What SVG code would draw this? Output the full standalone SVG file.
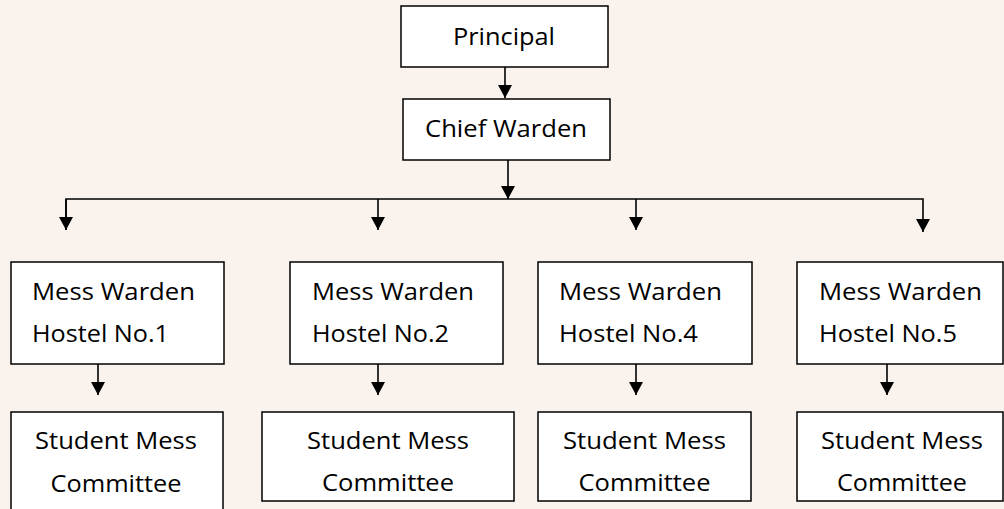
<svg xmlns="http://www.w3.org/2000/svg" width="1004" height="509" viewBox="0 0 1004 509">
<style>
.bg{fill:#FAF2EC}
.box{fill:#FFFFFF;stroke:#000000;stroke-width:1.5}
.t{font-family:"Open Sans","Noto Sans",sans-serif;font-size:24px;fill:#000000}
.c{text-anchor:middle}
.ln{fill:none;stroke:#000000;stroke-width:1.6}
</style>
<defs>
<marker id="ah" viewBox="0 0 13 14" refX="13" refY="7" markerWidth="13" markerHeight="14" markerUnits="userSpaceOnUse" orient="auto">
<path d="M0,0 L13,7 L0,14 z" fill="#000000"/>
</marker>
</defs>
<rect class="bg" x="0" y="0" width="1004" height="509"/>
<g id="connectors">
<line class="ln" x1="505" y1="67" x2="505" y2="98" marker-end="url(#ah)"/>
<line class="ln" x1="508" y1="160" x2="508" y2="199" marker-end="url(#ah)"/>
<polyline class="ln" points="66,230 66,199 923,199 923,232" marker-end="url(#ah)"/>
<line class="ln" x1="378" y1="199" x2="378" y2="230" marker-end="url(#ah)"/>
<line class="ln" x1="636" y1="199" x2="636" y2="230" marker-end="url(#ah)"/>
<line class="ln" x1="66" y1="199" x2="66" y2="230" marker-end="url(#ah)"/>
<line class="ln" x1="98" y1="364" x2="98" y2="395" marker-end="url(#ah)"/>
<line class="ln" x1="378" y1="364" x2="378" y2="395" marker-end="url(#ah)"/>
<line class="ln" x1="636" y1="364" x2="636" y2="395" marker-end="url(#ah)"/>
<line class="ln" x1="887" y1="364" x2="887" y2="395" marker-end="url(#ah)"/>
</g>
<g id="principal">
<rect class="box" x="401" y="6" width="207" height="61"/>
<text class="t" x="453" y="45" textLength="102" lengthAdjust="spacingAndGlyphs">Principal</text>
</g>
<g id="chief-warden">
<rect class="box" x="403" y="99" width="207" height="61"/>
<text class="t" x="425" y="137" textLength="162" lengthAdjust="spacingAndGlyphs">Chief Warden</text>
</g>
<g id="mess-warden-1">
<rect class="box" x="11" y="262" width="213" height="102"/>
<text class="t" x="32" y="300" textLength="163" lengthAdjust="spacingAndGlyphs">Mess Warden</text>
<text class="t" x="32" y="342" textLength="137" lengthAdjust="spacingAndGlyphs">Hostel No.1</text>
</g>
<g id="mess-warden-2">
<rect class="box" x="290" y="262" width="213" height="102"/>
<text class="t" x="312" y="300" textLength="162" lengthAdjust="spacingAndGlyphs">Mess Warden</text>
<text class="t" x="312" y="342" textLength="137" lengthAdjust="spacingAndGlyphs">Hostel No.2</text>
</g>
<g id="mess-warden-4">
<rect class="box" x="538" y="262" width="214" height="102"/>
<text class="t" x="559" y="300" textLength="163" lengthAdjust="spacingAndGlyphs">Mess Warden</text>
<text class="t" x="559" y="342" textLength="139" lengthAdjust="spacingAndGlyphs">Hostel No.4</text>
</g>
<g id="mess-warden-5">
<rect class="box" x="797" y="262" width="206" height="102"/>
<text class="t" x="819" y="300" textLength="163" lengthAdjust="spacingAndGlyphs">Mess Warden</text>
<text class="t" x="819" y="342" textLength="138" lengthAdjust="spacingAndGlyphs">Hostel No.5</text>
</g>
<g id="student-committee-1">
<rect class="box" x="11" y="412" width="212" height="110"/>
<text class="t c" x="116" y="449" textLength="162" lengthAdjust="spacingAndGlyphs">Student Mess</text>
<text class="t c" x="116" y="492" textLength="131" lengthAdjust="spacingAndGlyphs">Committee</text>
</g>
<g id="student-committee-2">
<rect class="box" x="262" y="412" width="252" height="89"/>
<text class="t c" x="388" y="449" textLength="162" lengthAdjust="spacingAndGlyphs">Student Mess</text>
<text class="t c" x="388" y="491" textLength="132" lengthAdjust="spacingAndGlyphs">Committee</text>
</g>
<g id="student-committee-4">
<rect class="box" x="538" y="412" width="213" height="89"/>
<text class="t c" x="644.5" y="449" textLength="163" lengthAdjust="spacingAndGlyphs">Student Mess</text>
<text class="t c" x="644.5" y="491" textLength="132" lengthAdjust="spacingAndGlyphs">Committee</text>
</g>
<g id="student-committee-5">
<rect class="box" x="797" y="412" width="206" height="89"/>
<text class="t c" x="902" y="449" textLength="162" lengthAdjust="spacingAndGlyphs">Student Mess</text>
<text class="t c" x="902" y="491" textLength="130" lengthAdjust="spacingAndGlyphs">Committee</text>
</g>
</svg>
